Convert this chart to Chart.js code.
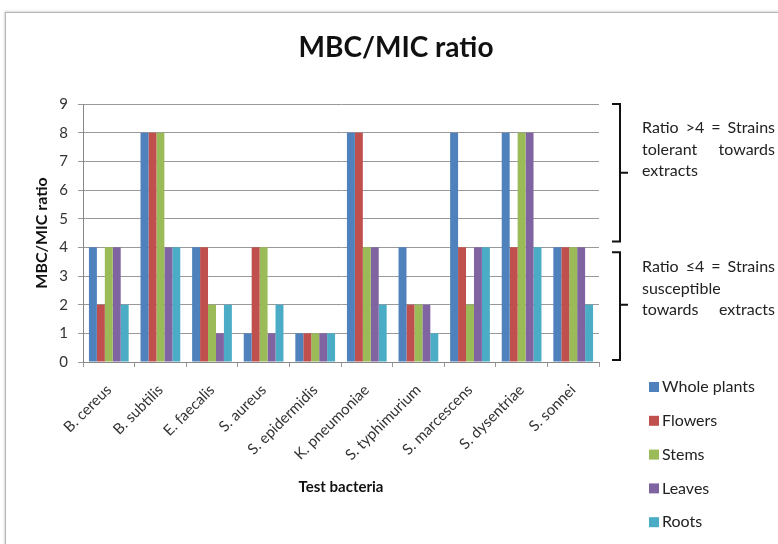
<!DOCTYPE html>
<html>
<head>
<meta charset="utf-8">
<script src="https://cdn.jsdelivr.net/npm/chart.js@4.4.0/dist/chart.umd.min.js"></script>
<style>
html,body{margin:0;padding:0;background:#fff;overflow:hidden}
#frame{position:absolute;left:5px;top:12px;width:800px;height:560px;border-top:1px solid #b5b5b5;border-left:1px solid #b5b5b5;box-shadow:-1px -1px 2px rgba(0,0,0,0.15)}
#box{position:absolute;left:0;top:0;width:773px;height:532px}
</style>
</head>
<body>
<div id="frame"><div id="box"><canvas id="chartRatio"></canvas></div></div>
<script>
var bacteria=["B. cereus","B. subtilis","E. faecalis","S. aureus","S. epidermidis","K. pneumoniae","S. typhimurium","S. marcescens","S. dysentriae","S. sonnei"];
var wholePlants=[4,8,4,1,1,8,4,8,8,4];
var flowers=[2,8,4,4,1,8,2,4,4,4];
var stems=[4,8,2,4,1,4,2,2,8,4];
var leaves=[4,4,1,1,1,4,2,4,8,4];
var roots=[2,4,2,2,1,2,1,4,4,2];
var seriesNames=["Whole plants","Flowers","Stems","Leaves","Roots"];
var seriesColors=["#4f81bd","#c0504d","#9bbb59","#8064a2","#4bacc6"];
var yTicks=[0,1,2,3,4,5,6,7,8,9];
// bracket spans in axis units, first text line position in axis units
var notes=[
  {from:9,to:4.2,tick:6.6,textAt:8.16,lines:["Ratio >4 = Strains","tolerant towards","extracts"],justify:[true,true,false]},
  {from:3.83,to:0.07,tick:2.0,textAt:3.31,lines:["Ratio \u22644 = Strains","susceptible","towards extracts"],justify:[true,false,true]}
];

var FONT="Lato, 'Open Sans', sans-serif";

function justLine(ctx,words,x0,x1,y,justify){
  if(!justify||words.length<2){ctx.fillText(words.join(" "),x0,y);return;}
  var tw=0;
  words.forEach(function(w){tw+=ctx.measureText(w).width});
  var gap=(x1-x0-tw)/(words.length-1),x=x0;
  words.forEach(function(w){ctx.fillText(w,x,y);x+=ctx.measureText(w).width+gap});
}

var sidePlugin={
  id:"sideNotes",
  afterDraw:function(chart){
    var ctx=chart.ctx,ys=chart.scales.y;
    ctx.save();
    // title
    ctx.fillStyle="#111";ctx.font="bold 28px "+FONT;ctx.textAlign="center";ctx.textBaseline="middle";
    ctx.fillText("MBC/MIC ratio",390,35);
    // brackets + notes
    ctx.strokeStyle="#111";ctx.lineWidth=2;ctx.textAlign="left";
    notes.forEach(function(n){
      var top=ys.getPixelForValue(n.from),bot=ys.getPixelForValue(n.to),mid=ys.getPixelForValue(n.tick);
      var bx=614;
      ctx.beginPath();
      ctx.moveTo(606,top);ctx.lineTo(bx,top);ctx.lineTo(bx,bot);ctx.lineTo(606,bot);
      ctx.moveTo(bx,mid);ctx.lineTo(622,mid);
      ctx.stroke();
      ctx.fillStyle="#222";ctx.font="16px "+FONT;
      var ly=ys.getPixelForValue(n.textAt);
      n.lines.forEach(function(l,k){
        justLine(ctx,l.split(" "),636,769,ly+k*21.5,n.justify[k]);
      });
    });
    // legend
    ctx.font="16px "+FONT;
    chart.data.datasets.forEach(function(ds,i){
      var y=374+i*33.8;
      ctx.fillStyle=ds.backgroundColor;
      ctx.fillRect(643,y-5,10,10);
      ctx.fillStyle="#222";
      ctx.fillText(ds.label,656,y);
    });
    ctx.restore();
  }
};

var sets=[wholePlants,flowers,stems,leaves,roots].map(function(d,i){
  return {label:seriesNames[i],data:d,backgroundColor:seriesColors[i],borderWidth:0,categoryPercentage:0.77,barPercentage:1.0};
});

new Chart(document.getElementById("chartRatio").getContext("2d"),{
  type:"bar",
  data:{labels:bacteria,datasets:sets},
  options:{
    responsive:true,maintainAspectRatio:false,animation:false,
    layout:{padding:{left:25,right:180,top:91,bottom:40}},
    plugins:{legend:{display:false},tooltip:{enabled:false},title:{display:false}},
    scales:{
      x:{
        afterFit:function(s){s.height=143},
        grid:{display:true,drawOnChartArea:false,drawTicks:true,tickLength:5,color:"#999"},
        border:{color:"#888"},
        ticks:{color:"#333",font:{family:FONT,size:15},minRotation:45,maxRotation:45,padding:14},
        title:{display:true,text:"Test bacteria",color:"#111",font:{family:FONT,size:15,weight:"bold"},padding:{top:0,bottom:9}}
      },
      y:{
        min:0,max:9,
        afterFit:function(s){s.width=52},
        afterBuildTicks:function(s){s.ticks=yTicks.map(function(v){return {value:v}})},
        grid:{color:"#999",drawTicks:true,tickLength:5},
        border:{color:"#888"},
        ticks:{color:"#333",font:{family:FONT,size:15},padding:10},
        title:{display:true,text:"MBC/MIC ratio",color:"#111",font:{family:FONT,size:16,weight:"bold"},padding:{top:1,bottom:0}}
      }
    }
  },
  plugins:[sidePlugin]
});
</script>
</body>
</html>
